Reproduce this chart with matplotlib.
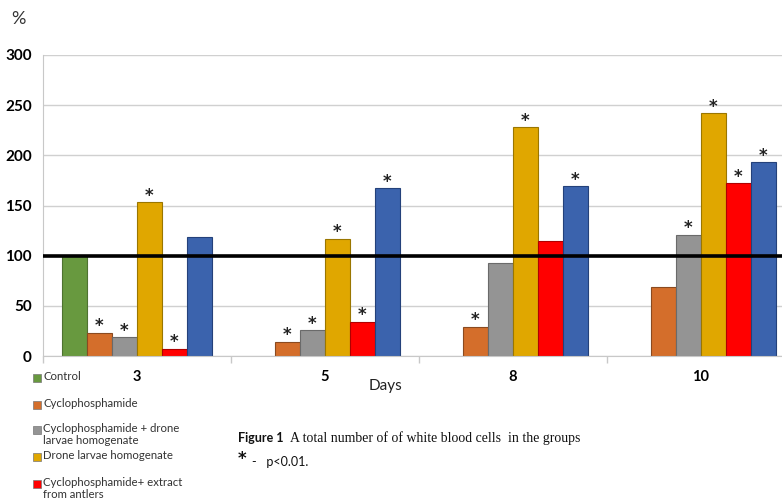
import matplotlib.pyplot as plt
from matplotlib.patches import Rectangle
import numpy as np

plt.rcParams['font.family'] = ['Lato', 'DejaVu Sans']

days = ['3', '5', '8', '10']
groups = ['Control', 'Cyclophosphamide',
          'Cyclophosphamide + drone\nlarvae homogenate',
          'Drone larvae homogenate',
          'Cyclophosphamide+ extract\nfrom antlers',
          'Extract from antlers']
colors = ['#68993f', '#d46e2b', '#949494', '#e0a700', '#ff0000', '#3b63ad']
edges = ['#4e7330', '#8a4a20', '#6a6a6a', '#9a7600', '#b00000', '#24417a']

# values, % of control, per day (rows follow groups)
values = [
    [100, 0, 0, 0],
    [23, 14, 29, 69],
    [18.5, 25.5, 92.5, 121],
    [153, 117, 228, 242],
    [7, 34, 115, 172],
    [118.5, 167, 169, 193],
]
# significance marks (p<0.01)
signif = [
    [0, 0, 0, 0],
    [1, 1, 1, 0],
    [1, 1, 0, 1],
    [1, 1, 1, 1],
    [1, 1, 0, 1],
    [0, 1, 1, 1],
]

fig = plt.figure(figsize=(7.82, 5.04), dpi=100)
ax = fig.add_axes([43 / 782, 148 / 504, 1 - 43 / 782, 301 / 504])

x = np.arange(len(days))
w = 0.133
for i, g in enumerate(groups):
    pos = x + (i - 2.5) * w
    vals = np.array(values[i], dtype=float)
    mask = vals > 0
    ax.bar(pos[mask], vals[mask], width=w, color=colors[i], edgecolor=edges[i],
           linewidth=0.8, zorder=2)
    for p, v, s in zip(pos, vals, signif[i]):
        if s:
            ax.text(p, v - 2.5, '*', ha='center', va='bottom', fontsize=12,
                    fontweight='bold', color='#222222', zorder=4,
                    family='DejaVu Sans')

ax.axhline(100, color='black', linewidth=2.6, zorder=3)

ax.set_ylim(0, 300)
ax.set_xlim(-0.5, -0.5 + (782 - 43) / 188)
ax.set_yticks(range(0, 301, 50))
ax.yaxis.grid(True, color='#d0d0d0', linewidth=1, zorder=0)
ax.set_axisbelow(True)
ax.tick_params(axis='y', length=0, labelsize=11, pad=8)
for lab in ax.get_yticklabels():
    lab.set_fontweight('bold')

ax.set_xticks(x)
ax.set_xticklabels(days, fontsize=10.5, fontweight='bold')
ax.tick_params(axis='x', length=0, pad=10)
ax.set_xticks([-0.5, 0.5, 1.5, 2.5], minor=True)
ax.tick_params(axis='x', which='minor', length=5, color='#c8c8c8', width=1)

for side in ['top', 'right']:
    ax.spines[side].set_visible(False)
ax.spines['left'].set_color('#c8c8c8')
ax.spines['bottom'].set_color('#c8c8c8')

fig.text(18 / 782, 1 - 19 / 504, '%', fontsize=13, ha='center', va='center',
         color='#333333')
fig.text(385 / 782, 1 - 386 / 504, 'Days', fontsize=11, ha='center',
         va='center', color='#222222')

# legend: only the first five entries are visible in the source
leg_y = [378, 405, 430, 457, 484]
for i in range(5):
    yc = leg_y[i]
    fig.patches.append(Rectangle((33 / 782, 1 - (yc + 4) / 504), 8 / 782, 8 / 504,
                                 transform=fig.transFigure, facecolor=colors[i],
                                 edgecolor='#777777', linewidth=0.5))
    fig.text(43 / 782, 1 - (yc - 7) / 504, groups[i], fontsize=8.2, ha='left',
             va='top', color='#333333', linespacing=1.15)

fig.text(238 / 782, 1 - 438 / 504, 'Figure 1', fontsize=9, fontweight='bold',
         ha='left', va='center', color='#111111')
fig.text(290 / 782, 1 - 438 / 504,
         'A total number of of white blood cells  in the groups', fontsize=9.9,
         ha='left', va='center', family='Liberation Serif', color='#111111')
fig.text(238 / 782, 1 - 459 / 504, '*', fontsize=12, fontweight='bold',
         ha='left', va='center', family='DejaVu Sans', color='#111111')
fig.text(252 / 782, 1 - 462 / 504, '-   p<0.01.', fontsize=9, ha='left',
         va='center', color='#111111')

fig.savefig('out.png', dpi=100)
